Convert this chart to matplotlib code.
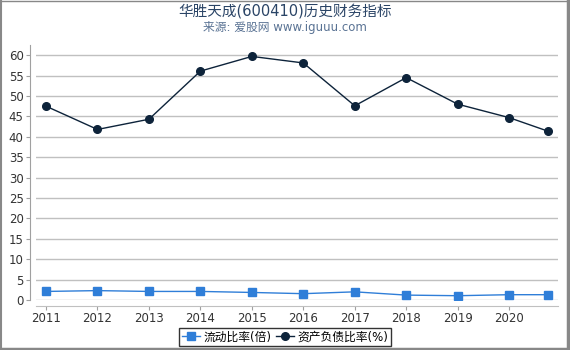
import matplotlib.pyplot as plt
from matplotlib.lines import Line2D

plt.rcParams['font.family'] = ['DejaVu Sans', 'Noto Sans CJK SC']

years = [2011, 2012, 2013, 2014, 2015, 2016, 2017, 2018, 2019, 2020, 2020.75]
tick_years = [2011, 2012, 2013, 2014, 2015, 2016, 2017, 2018, 2019, 2020]
current_ratio = [2.1, 2.3, 2.1, 2.1, 1.85, 1.55, 2.0, 1.2, 1.05, 1.3, 1.3]
debt_ratio = [47.5, 41.8, 44.3, 56.1, 59.7, 58.1, 47.6, 54.5, 48.0, 44.7, 41.4]

fig = plt.figure(figsize=(5.7, 3.5), dpi=100)
ax = fig.add_axes([36 / 570, 1 - 300 / 350, (557.5 - 36) / 570, 255 / 350])

ax.plot(years, current_ratio, color='#2f7ed8', lw=1, marker='s', ms=5.8,
        label='流动比率(倍)', zorder=3)
ax.plot(years, debt_ratio, color='#0d233a', lw=1, marker='o', ms=5.5,
        label='资产负债比率(%)', zorder=3)

ax.set_xlim(2010.805, 2020.94)
ax.set_ylim(0, 62.5)
ax.set_xticks(tick_years)
ax.set_xticklabels([str(y) for y in tick_years])
ax.set_yticks(range(0, 61, 5))

ax.grid(axis='y', color='#c0c0c0', lw=1)
ax.set_axisbelow(True)
for s in ['top', 'right']:
    ax.spines[s].set_visible(False)
ax.spines['left'].set_position(('outward', 4))
ax.spines['bottom'].set_position(('outward', 4))
ax.spines['left'].set_color('#a0a0a0')
ax.spines['bottom'].set_color('#c0c0c0')
ax.tick_params(axis='y', length=3, color='#a0a0a0', labelsize=8.5,
               labelcolor='#333333', pad=2)
ax.tick_params(axis='x', length=3, color='#a0a0a0', labelsize=8.5,
               labelcolor='#333333', pad=2)

fig.text(0.5, 1 - 11 / 350, '华胜天成(600410)历史财务指标', ha='center', va='center',
         fontsize=10.5, color='#2a4466')
fig.text(0.5, 1 - 28 / 350, '来源: 爱股网 www.iguuu.com', ha='center', va='center',
         fontsize=8.5, color='#5a7394')

leg = fig.legend(loc='center', bbox_to_anchor=(0.5, 1 - 337 / 350), ncol=2,
                 fontsize=8.5, frameon=True, fancybox=False, handlelength=1.5,
                 handletextpad=0.3, columnspacing=0.4, borderpad=0.25,
                 borderaxespad=0)
leg.get_frame().set_edgecolor('black')
leg.get_frame().set_linewidth(1)

# grey frame around the picture
fig.add_artist(Line2D([0, 1], [0.9985, 0.9985], color='#888888', lw=1, transform=fig.transFigure))
fig.add_artist(Line2D([0.001, 0.001], [0, 1], color='#888888', lw=1.5, transform=fig.transFigure))
fig.add_artist(Line2D([0.9965, 0.9965], [0, 1], color='#888888', lw=2.5, transform=fig.transFigure))
fig.add_artist(Line2D([0, 1], [0.004, 0.004], color='#888888', lw=2.5, transform=fig.transFigure))

fig.savefig('out.png', dpi=100)
